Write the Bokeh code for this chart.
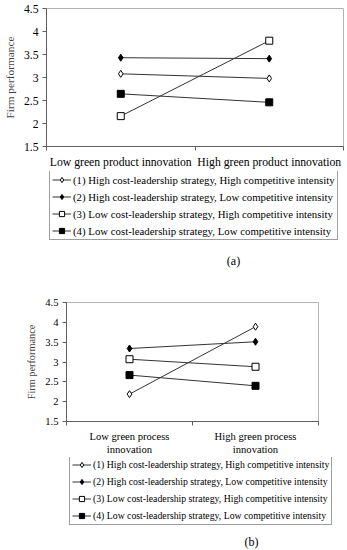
from bokeh.plotting import figure
from bokeh.models import (FixedTicker, NumeralTickFormatter, Legend, LegendItem,
                          Label, Range1d)
from bokeh.layouts import column
from bokeh.embed import file_html
from bokeh.resources import INLINE

# ---- data ----
series_labels = [
    "(1) High cost-leadership strategy, High competitive intensity",
    "(2) High cost-leadership strategy, Low competitive intensity",
    "(3) Low cost-leadership strategy, High competitive intensity",
    "(4) Low cost-leadership strategy, Low competitive intensity",
]
markers = ["diamond", "diamond", "square", "square"]
fills = ["white", "black", "white", "black"]
marker_sizes = [7, 7, 7, 7]
legend_marker_sizes = [6, 6, 5, 5]

cats_a = ["Low green product innovation", "High green product innovation"]
vals_a = [
    [3.08, 2.98],
    [3.43, 3.41],
    [2.16, 3.80],
    [2.645, 2.46],
]
cats_b = ["Low green process\ninnovation", "High green process\ninnovation"]
vals_b = [
    [2.19, 3.89],
    [3.34, 3.51],
    [3.07, 2.88],
    [2.67, 2.40],
]
caption_a = "(a)"
caption_b = "(b)"
y_ticks = [1.5, 2, 2.5, 3, 3.5, 4, 4.5]
x_pos = [0.5, 1.5]

FONT = "Liberation Serif"
LINE = "#333333"


def make_chart(cats, vals, fw, fh, mbl, mbr, mbt, mbb, fs, afs):
    p = figure(frame_width=fw, frame_height=fh, output_backend="svg", toolbar_location=None,
               x_range=Range1d(0, 2), y_range=Range1d(1.5, 4.5),
               min_border_left=mbl, min_border_right=mbr, min_border_top=mbt,
               min_border_bottom=mbb)
    p.grid.visible = False
    p.outline_line_color = "#b4b4b4"
    p.outline_line_width = 1
    p.background_fill_color = "white"
    p.border_fill_color = "white"

    xa = p.xaxis[0]
    xa.ticker = FixedTicker(ticks=x_pos, minor_ticks=[0, 1, 2])
    xa.major_label_overrides = {x_pos[i]: cats[i] for i in range(len(cats))}
    xa.major_tick_out = 0
    xa.major_tick_in = 0
    xa.minor_tick_out = 4
    xa.minor_tick_in = 0
    xa.axis_line_color = "#606060"
    xa.minor_tick_line_color = "#606060"
    xa.major_label_text_font = FONT
    xa.major_label_text_font_size = fs
    xa.major_label_text_color = "black"
    xa.major_label_standoff = 5

    ya = p.yaxis[0]
    ya.ticker = FixedTicker(ticks=y_ticks, minor_ticks=[])
    ya.formatter = NumeralTickFormatter(format="0.[0]")
    ya.major_tick_out = 4
    ya.major_tick_in = 0
    ya.axis_line_color = "#606060"
    ya.major_tick_line_color = "#606060"
    ya.major_label_text_font = FONT
    ya.major_label_text_font_size = fs
    ya.major_label_text_color = "black"
    ya.major_label_standoff = 4
    ya.axis_label = "Firm performance"
    ya.axis_label_text_font = FONT
    ya.axis_label_text_font_size = afs
    ya.axis_label_text_font_style = "normal"
    ya.axis_label_standoff = 5

    for i in range(len(vals)):
        p.line(x_pos, vals[i], line_color=LINE, line_width=1)
        p.scatter(x_pos, vals[i], marker=markers[i], size=marker_sizes[i],
                  fill_color=fills[i], line_color="black", line_width=1)
    return p


def make_legend(vals, caption, w, h, lfs, leg_x, leg_y, cap_x, cap_y):
    # ranges are negative so the series drawn here (only to feed the legend) stay out of view
    p = figure(frame_width=w, frame_height=h, output_backend="svg", toolbar_location=None,
               x_range=Range1d(-w, 0), y_range=Range1d(-h, 0),
               x_axis_location=None, y_axis_location=None,
               min_border_left=0, min_border_right=0, min_border_top=0,
               min_border_bottom=0)
    p.grid.visible = False
    p.outline_line_color = None
    items = []
    for i in range(len(series_labels)):
        lr = p.line(x_pos, vals[i], line_color=LINE, line_width=1)
        sr = p.scatter(x_pos, vals[i], marker=markers[i], size=legend_marker_sizes[i],
                       fill_color=fills[i], line_color="black", line_width=1)
        items.append(LegendItem(label=series_labels[i], renderers=[lr, sr]))
    leg = Legend(items=items, location=(leg_x, leg_y), orientation="vertical")
    leg.label_text_font = FONT
    leg.label_text_font_size = lfs
    leg.label_text_color = "black"
    leg.border_line_color = "#404040"
    leg.border_line_width = 1
    leg.glyph_width = 19
    leg.glyph_height = 13
    leg.label_height = 13
    leg.label_standoff = 2
    leg.spacing = 4
    leg.padding = 2
    leg.margin = 0
    leg.background_fill_alpha = 1
    p.add_layout(leg, "center")
    cap = Label(x=cap_x - w, y=cap_y - h, text=caption, text_align="center",
                text_baseline="middle", text_font=FONT, text_font_size="12px",
                text_color="black")
    p.add_layout(cap)
    return p


p1 = make_chart(cats_a, vals_a, 297, 138, 45, 5, 8, 24, "11.7px", "11.3px")
l1 = make_legend(vals_a, caption_a, 347, 105, "10.8px", 49, 36, 187, 16)
p2 = make_chart(cats_b, vals_b, 252, 119, 66, 29, 26, 34, "10.6px", "10.3px")
l2 = make_legend(vals_b, caption_b, 347, 96, "9.75px", 69, 28, 185, 12)

layout = column(column(p1, l1, spacing=0), column(p2, l2, spacing=0), spacing=0)
open("out.html", "w").write(file_html(layout, INLINE))
